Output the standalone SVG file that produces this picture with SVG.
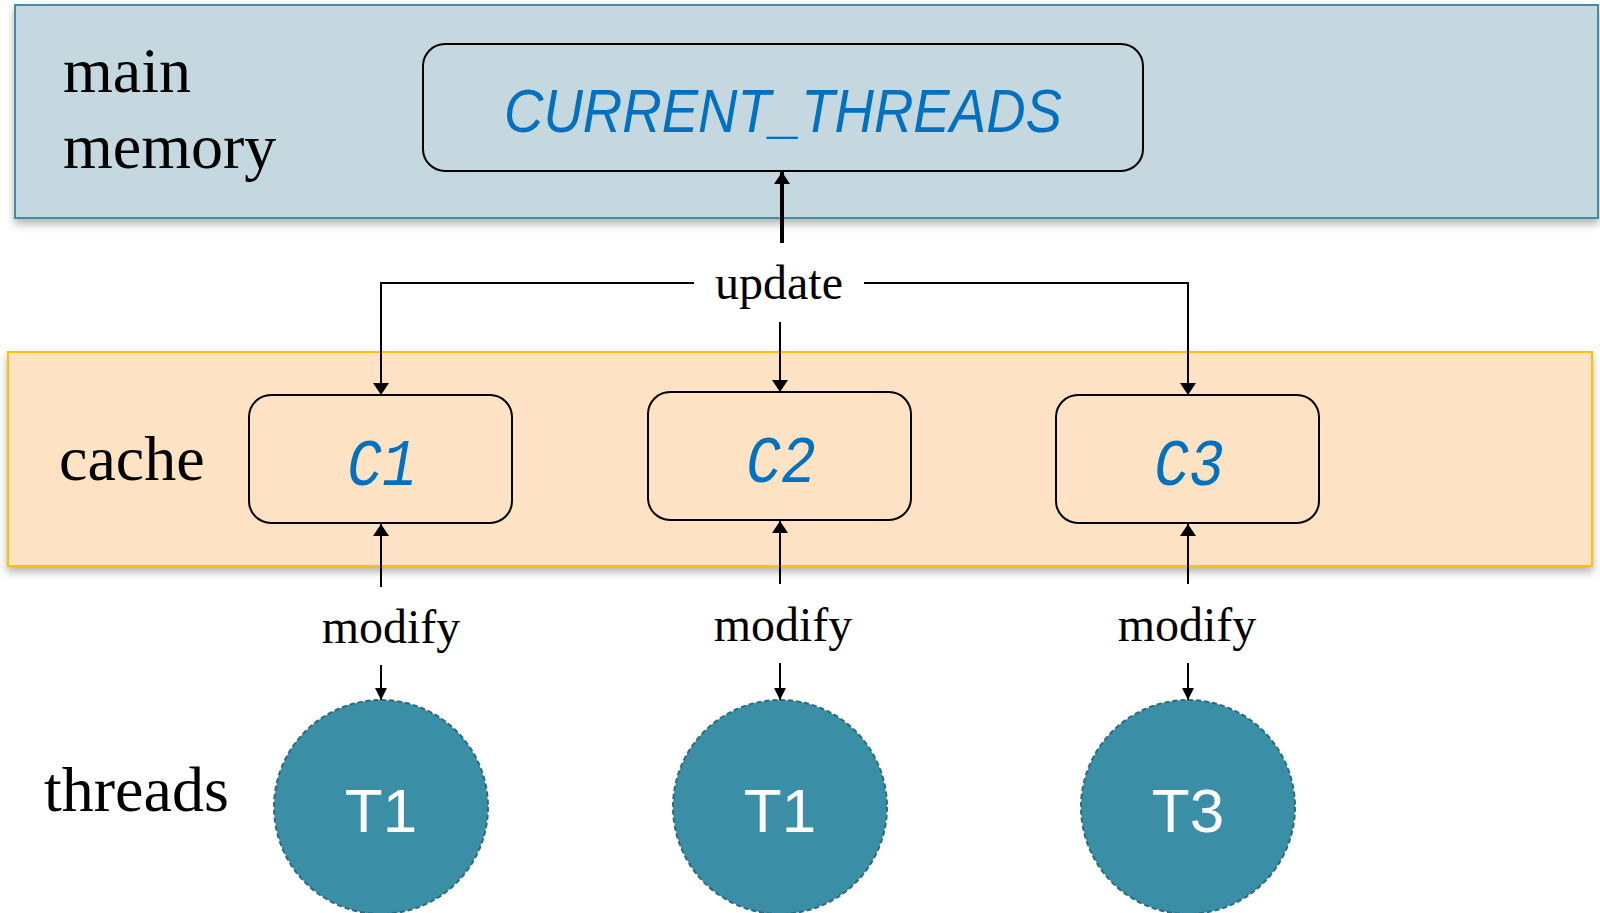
<svg xmlns="http://www.w3.org/2000/svg" width="1600" height="913" viewBox="0 0 1600 913">
  <defs>
    <filter id="shadow" x="-5%" y="-10%" width="110%" height="130%">
      <feDropShadow dx="0" dy="5" stdDeviation="4" flood-color="#000" flood-opacity="0.3"/>
    </filter>
    <marker id="arrow" viewBox="0 0 12 16" refX="12" refY="8" markerWidth="12" markerHeight="16" markerUnits="userSpaceOnUse" orient="auto">
      <path d="M0,0 L12,8 L0,16 Z" fill="#000"/>
    </marker>
    <marker id="arrow-small" viewBox="0 0 12 12" refX="12" refY="6" markerWidth="12" markerHeight="12" markerUnits="userSpaceOnUse" orient="auto">
      <path d="M0,0 L12,6 L0,12 Z" fill="#000"/>
    </marker>
  </defs>
  <style>
    .layer-label { font-family: "Liberation Serif", "Times New Roman", serif; font-size: 64px; fill: #000; }
    .edge-label { font-family: "Liberation Serif", "Times New Roman", serif; font-size: 48px; fill: #000; text-anchor: middle; }
    .box { stroke: #000; stroke-width: 2; }
    .var { font-family: "Liberation Sans", Arial, sans-serif; font-style: italic; fill: #0070C0; text-anchor: middle; }
    .cache-var { font-family: "Liberation Mono", "DejaVu Sans Mono", monospace; font-style: italic; font-size: 66px; fill: #0070C0; text-anchor: middle; }
    .thread { fill: #3A8FA6; stroke: #2A6A7C; stroke-width: 2; stroke-dasharray: 5 3; }
    .thread-label { font-family: "Liberation Sans", Arial, sans-serif; font-size: 62px; fill: #fff; text-anchor: middle; }
    .conn { fill: none; stroke: #000; stroke-width: 2; }
  </style>

  <!-- memory layers -->
  <g id="main-memory">
    <rect x="15" y="5" width="1583" height="213" fill="#C6D8DF" stroke="#3A8FA6" stroke-width="2" filter="url(#shadow)"/>
    <text class="layer-label" x="63" y="92">main</text>
    <text class="layer-label" x="63" y="168">memory</text>
  </g>
  <g id="cache">
    <rect x="8" y="352" width="1584" height="214" fill="#FDE2C4" stroke="#FFC000" stroke-width="2" filter="url(#shadow)"/>
    <text class="layer-label" x="59" y="480">cache</text>
  </g>
  <g id="threads">
    <text class="layer-label" x="44" y="811">threads</text>
  </g>

  <!-- shared variable -->
  <g id="current-threads">
    <rect class="box" x="423" y="44" width="720" height="127" rx="22" fill="#C6D8DF"/>
    <text class="var" x="783" y="132" font-size="62" textLength="558" lengthAdjust="spacingAndGlyphs">CURRENT_THREADS</text>
  </g>

  <!-- per-core caches -->
  <g id="c1">
    <rect class="box" x="249" y="395" width="263" height="128" rx="22" fill="#FDE2C4"/>
    <text class="cache-var" x="382" y="485" textLength="70" lengthAdjust="spacingAndGlyphs">C1</text>
  </g>
  <g id="c2">
    <rect class="box" x="648" y="392" width="263" height="128" rx="22" fill="#FDE2C4"/>
    <text class="cache-var" x="781" y="482" textLength="70" lengthAdjust="spacingAndGlyphs">C2</text>
  </g>
  <g id="c3">
    <rect class="box" x="1056" y="395" width="263" height="128" rx="22" fill="#FDE2C4"/>
    <text class="cache-var" x="1189" y="485" textLength="70" lengthAdjust="spacingAndGlyphs">C3</text>
  </g>

  <!-- threads -->
  <g id="t1-a">
    <circle class="thread" cx="381" cy="807" r="107"/>
    <text class="thread-label" x="381" y="832">T1</text>
  </g>
  <g id="t1-b">
    <circle class="thread" cx="780" cy="807" r="107"/>
    <text class="thread-label" x="780" y="832">T1</text>
  </g>
  <g id="t3">
    <circle class="thread" cx="1188" cy="807" r="107"/>
    <text class="thread-label" x="1188" y="832">T3</text>
  </g>

  <!-- connectors -->
  <g id="connectors">
    <line x1="782" y1="243" x2="782" y2="172" stroke="#000" stroke-width="4" marker-end="url(#arrow)"/>
    <polyline class="conn" points="694,283 381,283 381,395" marker-end="url(#arrow)"/>
    <polyline class="conn" points="864,283 1188,283 1188,395" marker-end="url(#arrow)"/>
    <line class="conn" x1="780" y1="322" x2="780" y2="392" marker-end="url(#arrow)"/>
    <text class="edge-label" x="779" y="299">update</text>

    <line class="conn" x1="381" y1="587" x2="381" y2="524" marker-end="url(#arrow)"/>
    <line class="conn" x1="780" y1="584" x2="780" y2="521" marker-end="url(#arrow)"/>
    <line class="conn" x1="1188" y1="584" x2="1188" y2="524" marker-end="url(#arrow)"/>
    <text class="edge-label" x="391" y="643">modify</text>
    <text class="edge-label" x="783" y="641">modify</text>
    <text class="edge-label" x="1187" y="641">modify</text>

    <line class="conn" x1="381" y1="665" x2="381" y2="700" marker-end="url(#arrow-small)"/>
    <line class="conn" x1="780" y1="663" x2="780" y2="700" marker-end="url(#arrow-small)"/>
    <line class="conn" x1="1188" y1="663" x2="1188" y2="700" marker-end="url(#arrow-small)"/>
  </g>
</svg>
